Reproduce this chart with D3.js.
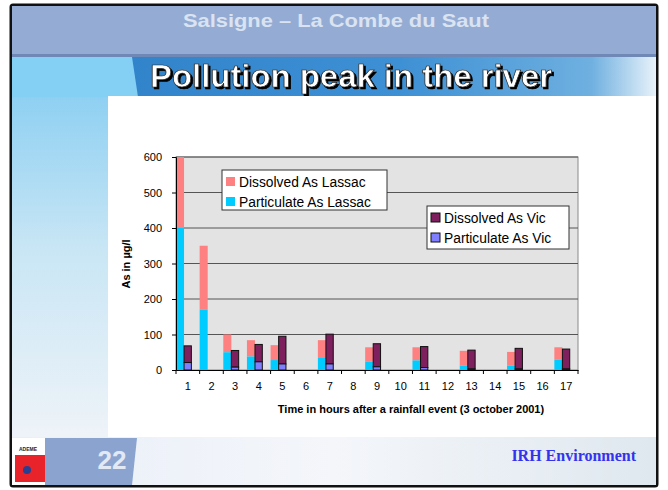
<!DOCTYPE html>
<html>
<head>
<meta charset="utf-8">
<script src="https://cdn.jsdelivr.net/npm/d3@7"></script>
<style>
  body { margin: 0; background: #fff; }
  svg text { font-family: "Liberation Sans", Arial, sans-serif; }
</style>
</head>
<body>
<svg width="668" height="490"></svg>
<script>
var hours = ["1","2","3","4","5","6","7","8","9","10","11","12","13","14","15","16","17"];
var lassacParticulate = [400,170,50,38,28,null,34,null,24,null,27,null,12,null,12,null,29];
var lassacDissolved   = [200,180,50,46,42,null,50,null,40,null,37,null,42,null,39,null,35];
var vicParticulate    = [21,null,8,23,17,null,17,null,9,null,7,null,3,null,3,null,3];
var vicDissolved      = [47,null,47,49,78,null,84,null,65,null,59,null,53,null,58,null,56];
var yTicks = [0,100,200,300,400,500,600];

var svg = d3.select("svg");
var defs = svg.append("defs");

function grad(id, x2, y2, stops) {
    var g = defs.append("linearGradient").attr("id", id)
        .attr("x1", 0).attr("y1", 0).attr("x2", x2).attr("y2", y2);
    stops.forEach(function(s) {
        g.append("stop").attr("offset", s[0]).attr("stop-color", s[1]);
    });
}
grad("band", 1, 0, [[0, "#2c7fc6"], [0.6, "#3d90d4"], [0.9, "#6fb0e0"], [1, "#e8f2fa"]]);
grad("left", 0, 1, [[0, "#8fd0f2"], [0.45, "#c9e6f5"], [1, "#eef3f8"]]);
grad("foot", 1, 0, [[0, "#e9eef8"], [0.5, "#f4f6fa"], [1, "#dfe8ef"]]);

var shadow = defs.append("filter").attr("id", "shadow");
shadow.append("feDropShadow").attr("dx", 2).attr("dy", 2).attr("stdDeviation", 0.4)
    .attr("flood-color", "#000").attr("flood-opacity", 1);

// slide frame
svg.append("rect").attr("x", 11).attr("y", 5).attr("width", 646).attr("height", 481)
    .attr("fill", "#eef3f8").attr("stroke", "#111").attr("stroke-width", 3).attr("rx", 2);

// top bar
svg.append("rect").attr("x", 12).attr("y", 6).attr("width", 644).attr("height", 49).attr("fill", "#94acd3");
svg.append("rect").attr("x", 12).attr("y", 54).attr("width", 644).attr("height", 3).attr("fill", "#6f88b6");
svg.append("text").attr("x", 336).attr("y", 27).attr("text-anchor", "middle")
    .attr("font-size", 19).attr("font-weight", "bold").attr("fill", "#dae3f1")
    .attr("textLength", 306).attr("lengthAdjust", "spacingAndGlyphs")
    .text("Salsigne \u2013 La Combe du Saut");

// title band
svg.append("rect").attr("x", 12).attr("y", 57).attr("width", 644).attr("height", 40).attr("fill", "url(#band)");
svg.append("path").attr("d", "M12,57 L132,57 L138,97 L12,97 Z").attr("fill", "#84d0f5");
svg.append("rect").attr("x", 12).attr("y", 97).attr("width", 96).attr("height", 340).attr("fill", "url(#left)");
svg.append("text").attr("x", 351).attr("y", 87).attr("text-anchor", "middle")
    .attr("font-size", 31).attr("font-weight", "bold").attr("fill", "#fff")
    .attr("stroke", "#222").attr("stroke-width", 0.7)
    .attr("textLength", 402).attr("lengthAdjust", "spacingAndGlyphs")
    .attr("filter", "url(#shadow)")
    .text("Pollution peak in the river");

// footer
svg.append("rect").attr("x", 12).attr("y", 437).attr("width", 644).attr("height", 48).attr("fill", "url(#foot)");
svg.append("path").attr("d", "M45,438 L137,438 L132,485 L45,485 Z").attr("fill", "#8aa4cf");
svg.append("rect").attr("x", 12).attr("y", 438).attr("width", 33).attr("height", 47).attr("fill", "#fff");
svg.append("text").attr("x", 28).attr("y", 451).attr("text-anchor", "middle")
    .attr("font-size", 5).attr("font-weight", "bold").attr("fill", "#223").text("ADEME");
svg.append("rect").attr("x", 15).attr("y", 455).attr("width", 30).attr("height", 27).attr("fill", "#e8242a");
svg.append("circle").attr("cx", 27).attr("cy", 470).attr("r", 4).attr("fill", "#2a3f8f");
svg.append("text").attr("x", 112).attr("y", 469).attr("text-anchor", "middle")
    .attr("font-size", 26).attr("font-weight", "bold").attr("fill", "#e2e9f5").text("22");
svg.append("text").attr("x", 636).attr("y", 461).attr("text-anchor", "end")
    .style("font-family", "'Liberation Serif', 'Times New Roman', serif")
    .attr("font-size", 16).attr("font-weight", "bold").attr("fill", "#3333ee").text("IRH Environment");

// chart area
svg.append("rect").attr("x", 108).attr("y", 96).attr("width", 548).attr("height", 341).attr("fill", "#fff");

var plot = {left: 176, right: 578, top: 157, bottom: 370};
var x = d3.scaleBand().domain(hours).range([plot.left, plot.right]).paddingInner(0).paddingOuter(0);
var y = d3.scaleLinear().domain([0, 600]).range([plot.bottom, plot.top]);
var bw = x.bandwidth();

var g = svg.append("g");
g.append("rect").attr("x", plot.left).attr("y", plot.top)
    .attr("width", plot.right - plot.left).attr("height", plot.bottom - plot.top)
    .attr("fill", "#e3e3e3").attr("stroke", "#8a8a8a");

g.selectAll(".grid").data(yTicks.slice(1)).enter().append("line")
    .attr("x1", plot.left).attr("x2", plot.right)
    .attr("y1", function(d) { return y(d); }).attr("y2", function(d) { return y(d); })
    .attr("stroke", "#555").attr("stroke-width", 1);

var lassac = hours.map(function(h, i) {
    return {h: h, p: lassacParticulate[i], d: lassacDissolved[i]};
}).filter(function(d) { return d.p != null; });
var vic = hours.map(function(h, i) {
    return {h: h, p: vicParticulate[i], d: vicDissolved[i]};
}).filter(function(d) { return d.p != null; });

// Lassac stacked bars
g.selectAll(".ld").data(lassac).enter().append("rect")
    .attr("x", function(d) { return x(d.h); }).attr("width", bw * 0.34)
    .attr("y", function(d) { return y(d.p + d.d); })
    .attr("height", function(d) { return y(d.p) - y(d.p + d.d); })
    .attr("fill", "#ff8080");
g.selectAll(".lp").data(lassac).enter().append("rect")
    .attr("x", function(d) { return x(d.h); }).attr("width", bw * 0.34)
    .attr("y", function(d) { return y(d.p); })
    .attr("height", function(d) { return y(0) - y(d.p); })
    .attr("fill", "#00ccff");

// Vic stacked bars
g.selectAll(".vd").data(vic).enter().append("rect")
    .attr("x", function(d) { return x(d.h) + bw * 0.34; }).attr("width", bw * 0.31)
    .attr("y", function(d) { return y(d.p + d.d); })
    .attr("height", function(d) { return y(d.p) - y(d.p + d.d); })
    .attr("fill", "#7e1f5e").attr("stroke", "#111").attr("stroke-width", 1);
g.selectAll(".vp").data(vic).enter().append("rect")
    .attr("x", function(d) { return x(d.h) + bw * 0.34; }).attr("width", bw * 0.31)
    .attr("y", function(d) { return y(d.p); })
    .attr("height", function(d) { return y(0) - y(d.p); })
    .attr("fill", "#8080ff").attr("stroke", "#111").attr("stroke-width", 1);

// axes
var yAxis = d3.axisLeft(y).tickValues(yTicks).tickSize(4).tickPadding(10);
var ya = g.append("g").attr("transform", "translate(" + plot.left + ",0)").call(yAxis);
ya.selectAll("text").attr("font-size", 11).attr("fill", "#000")
    .style("font-family", "'Liberation Sans', Arial, sans-serif");
ya.selectAll("line, path").attr("stroke", "#000");

var xAxis = d3.axisBottom(x).tickSize(0).tickPadding(12);
var xa = g.append("g").attr("transform", "translate(0," + plot.bottom + ")").call(xAxis);
xa.select(".domain").attr("stroke", "#000");
xa.selectAll("text").attr("font-size", 11).attr("fill", "#000")
    .style("font-family", "'Liberation Sans', Arial, sans-serif");
g.selectAll(".xt").data(hours.concat(["end"])).enter().append("line")
    .attr("x1", function(d, i) { return plot.left + i * bw; })
    .attr("x2", function(d, i) { return plot.left + i * bw; })
    .attr("y1", plot.bottom).attr("y2", plot.bottom + 4).attr("stroke", "#000");

svg.append("text").attr("x", 411).attr("y", 413).attr("text-anchor", "middle")
    .attr("font-size", 11).attr("font-weight", "bold")
    .text("Time in hours after a rainfall event (3 october 2001)");
svg.append("text").attr("transform", "translate(130,264) rotate(-90)").attr("text-anchor", "middle")
    .attr("font-size", 11).attr("font-weight", "bold").text("As in \u00b5g/l");

// legends
function legend(lx, ly, w, h, items) {
    var lg = svg.append("g").attr("transform", "translate(" + lx + "," + ly + ")");
    lg.append("rect").attr("width", w).attr("height", h).attr("fill", "#fff").attr("stroke", "#333");
    items.forEach(function(it, i) {
        lg.append("rect").attr("x", 4).attr("y", 7 + i * 20).attr("width", 9).attr("height", 9)
            .attr("fill", it[1]).attr("stroke", it[2] ? "#111" : "none");
        lg.append("text").attr("x", 17).attr("y", 16.5 + i * 20).attr("font-size", 13.8).text(it[0]);
    });
}
legend(222, 170, 165, 40, [["Dissolved As Lassac", "#ff8080"], ["Particulate As Lassac", "#00ccff"]]);
legend(427, 206, 142, 43, [["Dissolved As Vic", "#7e1f5e", true], ["Particulate As Vic", "#8080ff", true]]);
</script>
</body>
</html>
